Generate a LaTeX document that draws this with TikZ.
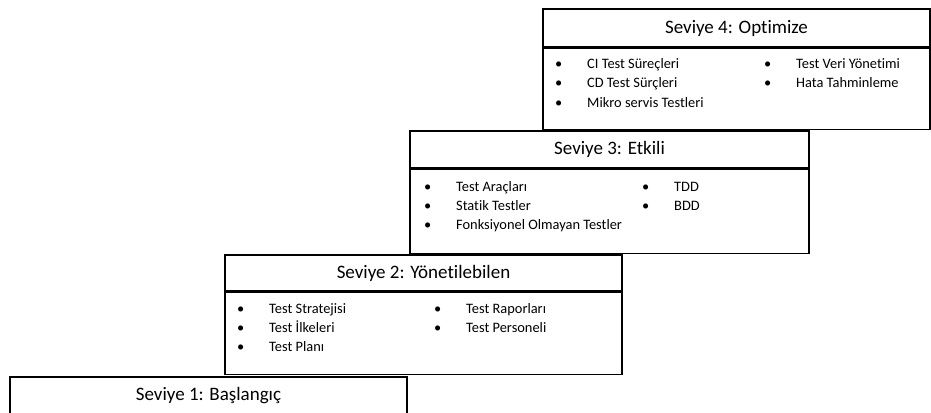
\documentclass[tikz,border=0pt]{standalone}
\usepackage{fontspec}
\setmainfont{Carlito}[Ligatures=NoCommon]
\tikzstyle{levelhead}=[draw,line width=1.4pt,minimum width=397pt,minimum height=37pt,inner sep=0pt,font=\fontsize{19}{22}\selectfont]
\tikzstyle{levelbody}=[draw,line width=1.4pt,minimum width=397pt,minimum height=83pt,inner sep=0pt,anchor=north]
\tikzstyle{point}=[anchor=west,inner sep=0pt,text height=10pt,text depth=3pt,font=\fontsize{14.4}{17}\selectfont]
\newcommand{\blt}[1]{\makebox[32pt][l]{\textbullet}#1}

\begin{document}
\begin{tikzpicture}[x=1pt,y=-1pt]
\clip (0,0) rectangle (931,412);

\node[levelhead,minimum width=387pt,minimum height=38pt] (t4) at (736.5,28) {Seviye 4: Optimize};
\node[levelbody,minimum width=387pt,minimum height=81pt] (b4) at (t4.south) {};
\node[point] (s4a) at (555,64.5) {\blt{CI Test Süreçleri}};
\node[point] (s4b) at (555,84) {\blt{CD Test Sürçleri}};
\node[point] (s4c) at (555,103.5) {\blt{Mikro servis Testleri}};
\node[point] (s4d) at (764,64.5) {\blt{Test Veri Yönetimi}};
\node[point] (s4e) at (764,84) {\blt{Hata Tahminleme}};

\node[levelhead,minimum width=399pt] (t3) at (609.5,149.5) {Seviye 3: Etkili};
\node[levelbody,minimum width=399pt,minimum height=84pt] (b3) at (t3.south) {};
\node[point] (s3a) at (424,188) {\blt{Test Araçları}};
\node[point] (s3b) at (424,207) {\blt{Statik Testler}};
\node[point] (s3c) at (424,226) {\blt{Fonksiyonel Olmayan Testler}};
\node[point] (s3d) at (642,188) {\blt{TDD}};
\node[point] (s3e) at (642,207) {\blt{BDD}};

\node[levelhead,minimum height=36pt] (t2) at (423.5,273) {Seviye 2: Yönetilebilen};
\node[levelbody,minimum height=82pt] (b2) at (t2.south) {};
\node[point] (s2a) at (237,310) {\blt{Test Stratejisi}};
\node[point] (s2b) at (237,329) {\blt{Test İlkeleri}};
\node[point] (s2c) at (237,348) {\blt{Test Planı}};
\node[point] (s2d) at (434,310) {\blt{Test Raporları}};
\node[point] (s2e) at (434,329) {\blt{Test Personeli}};

\node[levelhead,minimum height=38pt] (t1) at (208.5,396) {Seviye 1: Başlangıç};
\end{tikzpicture}
\end{document}
